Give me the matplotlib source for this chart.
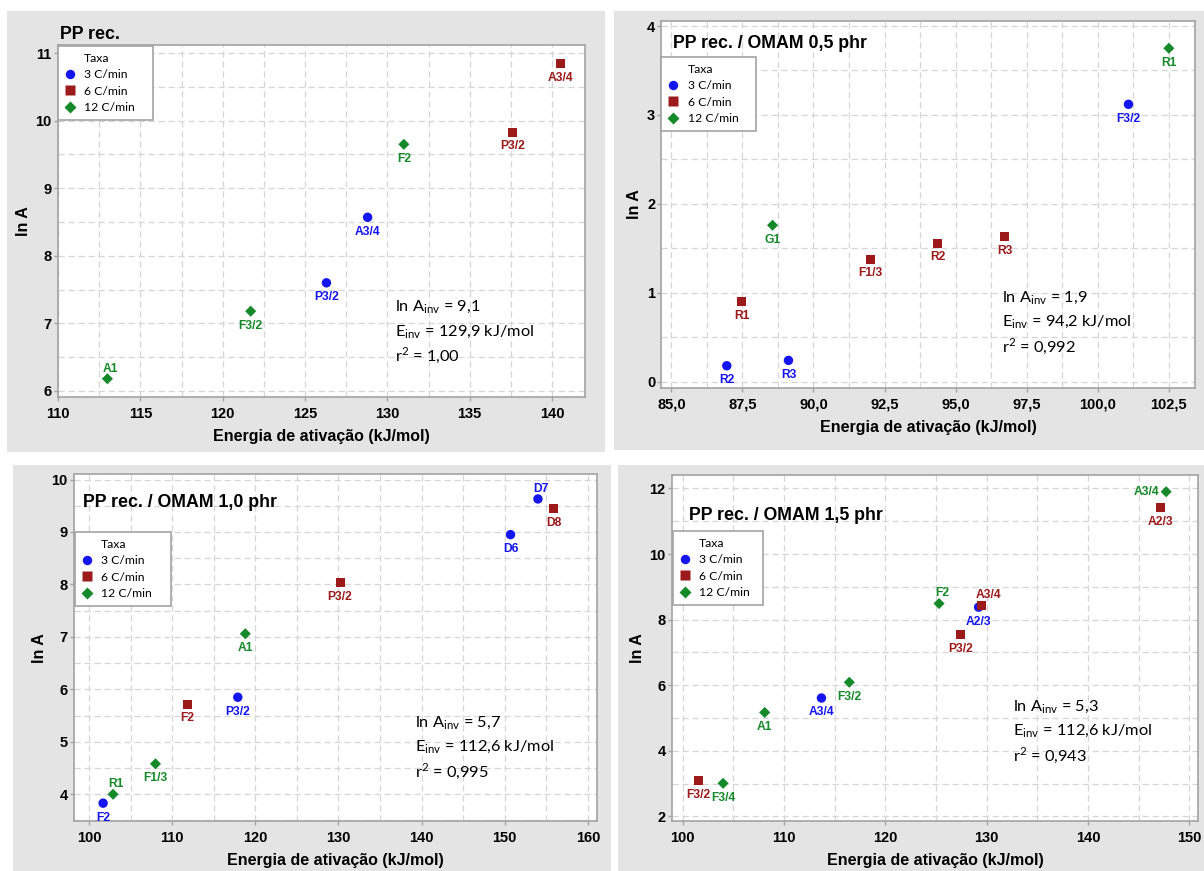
import matplotlib
matplotlib.use("Agg")
import matplotlib.pyplot as plt
from matplotlib.lines import Line2D
from matplotlib.patches import Rectangle
from matplotlib.ticker import MultipleLocator, FuncFormatter

W, H = 1204, 871
BLUE, RED, GREEN = "#1515f0", "#9c1a1a", "#168a2a"
GRID, EDGE = "#d6d6d6", "#a3a3a3"
BOLD = "Liberation Sans"
LIGHT = "Lato"

rates = ["3 C/min", "6 C/min", "12 C/min"]

# PP rec.
pp_e3, pp_lnA3, pp_lab3 = [126.3, 128.8], [7.60, 8.57], ["P3/2", "A3/4"]
pp_e6, pp_lnA6, pp_lab6 = [137.6, 140.5], [9.83, 10.85], ["P3/2", "A3/4"]
pp_e12, pp_lnA12, pp_lab12 = [113.0, 121.7, 131.0], [6.18, 7.18, 9.65], ["A1", "F3/2", "F2"]
pp_fit = ["9,1", "129,9", "1,00"]

# PP rec. / OMAM 0,5 phr
o05_e3, o05_lnA3, o05_lab3 = [86.95, 89.12, 101.08], [0.18, 0.24, 3.12], ["R2", "R3", "F3/2"]
o05_e6, o05_lnA6, o05_lab6 = [87.47, 92.0, 94.36, 96.72], [0.90, 1.38, 1.56, 1.63], ["R1", "F1/3", "R2", "R3"]
o05_e12, o05_lnA12, o05_lab12 = [88.56, 102.5], [1.76, 3.75], ["G1", "R1"]
o05_fit = ["1,9", "94,2", "0,992"]

# PP rec. / OMAM 1,0 phr
o10_e3, o10_lnA3, o10_lab3 = [101.7, 117.9, 150.7, 154.0], [3.83, 5.85, 8.95, 9.63], ["F2", "P3/2", "D6", "D7"]
o10_e6, o10_lnA6, o10_lab6 = [111.8, 130.2, 155.9], [5.72, 8.04, 9.44], ["F2", "P3/2", "D8"]
o10_e12, o10_lnA12, o10_lab12 = [102.9, 108.0, 118.8], [4.00, 4.58, 7.06], ["R1", "F1/3", "A1"]
o10_fit = ["5,7", "112,6", "0,995"]

# PP rec. / OMAM 1,5 phr
o15_e3, o15_lnA3, o15_lab3 = [113.7, 129.2], [5.61, 8.38], ["A3/4", "A2/3"]
o15_e6, o15_lnA6, o15_lab6 = [101.6, 127.4, 129.5, 147.1], [3.08, 7.54, 8.42, 11.42], ["F3/2", "P3/2", "A3/4", "A2/3"]
o15_e12, o15_lnA12, o15_lab12 = [104.0, 108.1, 116.45, 125.3, 147.7], [3.01, 5.17, 6.09, 8.49, 11.9], ["F3/4", "A1", "F3/2", "F2", "A3/4"]
o15_fit = ["5,3", "112,6", "0,943"]

# label placement exceptions (default: centred below the marker)
PLACE = {
    ("pp", 2, "A1"): "above",
    ("o10", 0, "D7"): "above",
    ("o10", 2, "R1"): "above",
    ("o15", 2, "F2"): "above",
    ("o15", 1, "A3/4"): "above_right",
    ("o15", 2, "A3/4"): "left",
}
OFFSETS = {
    "below": ((0, -6), "center", "top"),
    "above": ((2, 3), "center", "bottom"),
    "above_right": ((5, 3.5), "center", "bottom"),
    "left": ((-5, 0), "right", "center"),
}

panels = [
    dict(key="pp", title="PP rec.", bg=(7, 11, 605, 452), box=(58, 45, 585, 397),
         xlim=(110, 142.0), ylim=(5.91, 11.12), xmaj=5, xmin=2.5, ymaj=1, ymin=0.5, comma=False,
         series=[(pp_e3, pp_lnA3, pp_lab3), (pp_e6, pp_lnA6, pp_lab6), (pp_e12, pp_lnA12, pp_lab12)],
         fit=pp_fit, title_xy=(0.004, 1.017), leg=(58, 46, 95),
         fit_x=0.6395, fit_y=(0.2423, 0.1733, 0.1023)),
    dict(key="o05", title="PP rec. / OMAM 0,5 phr", bg=(614, 11, 1204, 450), box=(661.4, 20.7, 1195, 387.7),
         xlim=(84.65, 103.42), ylim=(-0.067, 4.06), xmaj=2.5, xmin=1.25, ymaj=1, ymin=0.5, comma=True,
         series=[(o05_e3, o05_lnA3, o05_lab3), (o05_e6, o05_lnA6, o05_lab6), (o05_e12, o05_lnA12, o05_lab12)],
         fit=o05_fit, title_xy=(0.0216, 0.926), leg=(661.4, 57, 95),
         fit_x=0.638, fit_y=(0.2316, 0.1662, 0.098)),
    dict(key="o10", title="PP rec. / OMAM 1,0 phr", bg=(13, 465, 611, 871), box=(74, 474.3, 597, 821),
         xlim=(98.2, 161.1), ylim=(3.49, 10.1), xmaj=10, xmin=5, ymaj=1, ymin=0.5, comma=False,
         series=[(o10_e3, o10_lnA3, o10_lab3), (o10_e6, o10_lnA6, o10_lab6), (o10_e12, o10_lnA12, o10_lab12)],
         fit=o10_fit, title_xy=(0.018, 0.9066), leg=(75, 532, 96),
         fit_x=0.6524, fit_y=(0.269, 0.200, 0.128)),
    dict(key="o15", title="PP rec. / OMAM 1,5 phr", bg=(618, 465, 1204, 871), box=(672, 475, 1198, 821),
         xlim=(98.96, 150.84), ylim=(1.86, 12.41), xmaj=10, xmin=5, ymaj=2, ymin=1, comma=False,
         series=[(o15_e3, o15_lnA3, o15_lab3), (o15_e6, o15_lnA6, o15_lab6), (o15_e12, o15_lnA12, o15_lab12)],
         fit=o15_fit, title_xy=(0.0323, 0.870), leg=(673, 531, 90),
         fit_x=0.6477, fit_y=(0.318, 0.247, 0.176)),
]

styles = [("o", BLUE, 46), ("s", RED, 42), ("D", GREEN, 32)]

fig = plt.figure(figsize=(W / 100, H / 100), dpi=100)
fig.patch.set_facecolor("white")

for p in panels:
    x0, y0, x1, y1 = p["bg"]
    fig.add_artist(Rectangle((x0 / W, 1 - y1 / H), (x1 - x0) / W, (y1 - y0) / H,
                             transform=fig.transFigure, facecolor="#e4e4e4", edgecolor="none", zorder=-5))
    l, t, r, b = p["box"]
    ax = fig.add_axes([l / W, 1 - b / H, (r - l) / W, (b - t) / H])
    ax.set_facecolor("white")
    ax.set_xlim(*p["xlim"]); ax.set_ylim(*p["ylim"])
    ax.xaxis.set_major_locator(MultipleLocator(p["xmaj"]))
    ax.xaxis.set_minor_locator(MultipleLocator(p["xmin"]))
    ax.yaxis.set_major_locator(MultipleLocator(p["ymaj"]))
    ax.yaxis.set_minor_locator(MultipleLocator(p["ymin"]))
    if p["comma"]:
        ax.xaxis.set_major_formatter(FuncFormatter(lambda v, _: f"{v:.1f}".replace(".", ",")))
    else:
        ax.xaxis.set_major_formatter(FuncFormatter(lambda v, _: f"{v:.0f}"))
    ax.yaxis.set_major_formatter(FuncFormatter(lambda v, _: f"{v:.0f}"))
    ax.set_axisbelow(True)
    ax.grid(which="both", color=GRID, linestyle=(0, (5, 3)), linewidth=0.9)
    for s in ax.spines.values():
        s.set_color(EDGE); s.set_linewidth(1.2)
    ax.tick_params(which="major", direction="out", length=3, width=1, color=EDGE, labelsize=10.5)
    ax.tick_params(axis="x", pad=4)
    ax.tick_params(axis="y", pad=1.5)
    ax.tick_params(which="minor", length=0)
    for lab in ax.get_xticklabels() + ax.get_yticklabels():
        lab.set_fontweight("bold"); lab.set_family(BOLD)
    ax.set_xlabel("Energia de ativação (kJ/mol)", fontsize=11.5, fontweight="bold", family=BOLD, labelpad=6)
    ax.set_ylabel("ln A", fontsize=11.5, fontweight="bold", family=BOLD, labelpad=3.5)

    for i, ((e, lnA, labs), (mk, col, sz)) in enumerate(zip(p["series"], styles)):
        ax.scatter(e, lnA, marker=mk, s=sz, color=col, edgecolors="none", zorder=3)
        for xv, yv, txt in zip(e, lnA, labs):
            (dx, dy), ha, va = OFFSETS[PLACE.get((p["key"], i, txt), "below")]
            ax.annotate(txt, (xv, yv), xytext=(dx, dy), textcoords="offset points", ha=ha, va=va,
                        color=col, fontsize=8.7, fontweight="bold", family=BOLD, zorder=4)

    ax.text(*p["title_xy"], p["title"], transform=ax.transAxes, ha="left", va="baseline",
            fontsize=12.8, fontweight="bold", family=BOLD, zorder=5)

    handles = [Line2D([], [], linestyle="none", label="Taxa")]
    for (mk, col, sz), name in zip(styles, rates):
        handles.append(Line2D([], [], linestyle="none", marker=mk, color=col, markeredgecolor="none",
                              markersize=sz ** 0.5, label=name))
    lx, ly, lw = p["leg"]
    anchor = ((lx - l) / (r - l), (b - ly) / (b - t) - 0.3, lw / (r - l), 0.3)
    leg = ax.legend(handles=handles, loc="upper left", bbox_to_anchor=anchor, mode="expand",
                    borderaxespad=0, frameon=True, fancybox=False, edgecolor=EDGE, framealpha=1,
                    prop={"family": LIGHT, "size": 8.8}, handlelength=0.8, handletextpad=0.8,
                    labelspacing=0.45, borderpad=0.55)
    leg.get_frame().set_linewidth(1.2)

    a, ev, r2 = p["fit"]
    lines = [rf"ln A$_{{\mathregular{{inv}}}}$ = {a}",
             rf"E$_{{\mathregular{{inv}}}}$ = {ev} kJ/mol",
             rf"r$^{{\mathregular{{2}}}}$ = {r2}"]
    for yv, s in zip(p["fit_y"], lines):
        ax.text(p["fit_x"], yv, s, transform=ax.transAxes, ha="left", va="baseline",
                fontsize=11.8, family=LIGHT, zorder=5)

fig.savefig("out.png", dpi=100)
